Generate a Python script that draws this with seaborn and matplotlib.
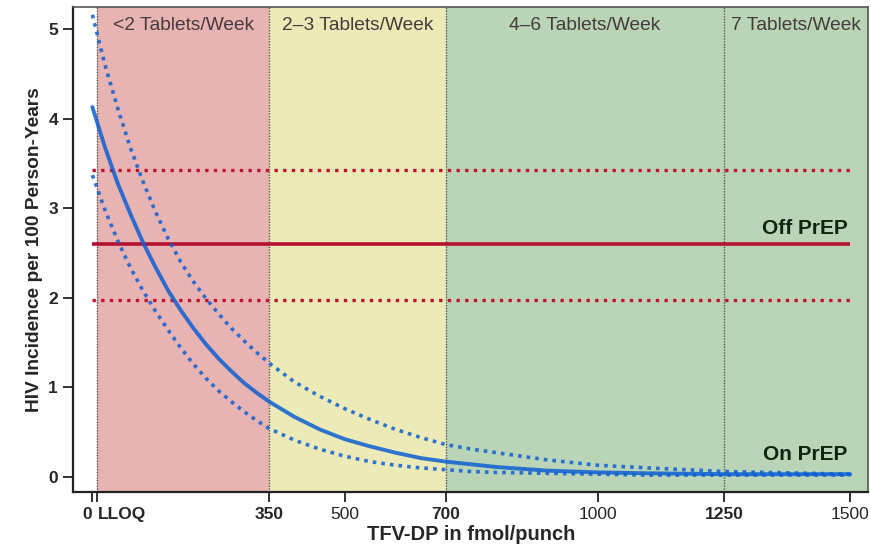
import numpy as np
import pandas as pd
import matplotlib
matplotlib.use("Agg")
import matplotlib.pyplot as plt
import matplotlib.transforms as mtransforms
import seaborn as sns

# ── Data ──────────────────────────────────────────────────────────────
conc   = [0, 25, 50, 75, 100, 125, 150, 175, 200, 225, 250, 275, 300, 325,
          350, 400, 450, 500, 550, 600, 650, 700, 750, 800, 900, 1000,
          1100, 1250, 1500]
mean   = [4.13, 3.68, 3.28, 2.94, 2.62, 2.34, 2.08, 1.86, 1.66, 1.48, 1.32,
          1.18, 1.05, 0.94, 0.84, 0.67, 0.53, 0.42, 0.34, 0.27, 0.21, 0.17,
          0.14, 0.11, 0.07, 0.05, 0.04, 0.03, 0.03]
upper  = [5.16, 4.60, 4.12, 3.68, 3.30, 2.96, 2.66, 2.40, 2.18, 1.99, 1.82,
          1.66, 1.52, 1.39, 1.27, 1.06, 0.90, 0.76, 0.64, 0.53, 0.44, 0.36,
          0.31, 0.27, 0.19, 0.13, 0.10, 0.06, 0.03]
lower  = [3.37, 2.98, 2.64, 2.34, 2.08, 1.85, 1.64, 1.44, 1.26, 1.10, 0.96,
          0.84, 0.73, 0.63, 0.54, 0.41, 0.31, 0.23, 0.17, 0.13, 0.10, 0.08,
          0.06, 0.05, 0.04, 0.03, 0.02, 0.02, 0.02]

off_prep       = 2.6
off_prep_upper = 3.43
off_prep_lower = 1.98

lloq        = 10
band_edges  = [lloq, 350, 700, 1250]
band_labels = ["<2 Tablets/Week", "2–3 Tablets/Week", "4–6 Tablets/Week",
               "7 Tablets/Week"]
band_colors = ["#e8b3b3", "#ecebb8", "#b9d4b7", "#b9d4b7"]

xticks      = [0, lloq, 350, 500, 700, 1000, 1250, 1500]
xticklabels = ["0", "LLOQ", "350", "500", "700", "1000", "1250", "1500"]
bold_xticks = {"0", "LLOQ", "350", "700", "1250"}

# ── Style ─────────────────────────────────────────────────────────────
sns.set_theme(style="ticks")
plt.rcParams["font.family"] = ["Liberation Sans", "DejaVu Sans"]

fig, ax = plt.subplots(figsize=(8.71, 5.52), dpi=100)
fig.subplots_adjust(left=0.084, right=0.997, bottom=0.109, top=0.987)

xmax = 1536
ax.set_xlim(-38, xmax)
ax.set_ylim(-0.167, 5.245)

# ── Background bands ──────────────────────────────────────────────────
edges = band_edges + [xmax]
for i, label in enumerate(band_labels):
    ax.axvspan(edges[i], edges[i + 1], color=band_colors[i], zorder=0, lw=0)
    ax.text((edges[i] + edges[i + 1]) / 2, 5.04, label, ha="center",
            va="center", fontsize=13.8, color="#463b3b")
for e in band_edges:
    ax.axvline(e, color="#555555", ls=(0, (1, 1)), lw=1.0, zorder=1)

# ── Off-PrEP reference ────────────────────────────────────────────────
red = "#c0142e"
ax.hlines(off_prep, 0, 1500, color="#b31230", lw=2.6, zorder=2)
ax.hlines([off_prep_upper, off_prep_lower], 0, 1500, color=red,
          lw=2.4, linestyles=(0, (1, 1.6)), zorder=2)

# ── On-PrEP curve + CI ────────────────────────────────────────────────
df = pd.DataFrame({"conc": conc, "mean": mean, "upper": upper, "lower": lower})
blue = "#0d5fd2"
sns.lineplot(data=df, x="conc", y="mean", ax=ax, color=blue, lw=2.8,
             alpha=0.85, zorder=3)
for col in ["upper", "lower"]:
    sns.lineplot(data=df, x="conc", y=col, ax=ax, color=blue, lw=2.6,
                 alpha=0.85, zorder=3, linestyle=(0, (1, 1.4)))

ax.text(1495, 2.77, "Off PrEP", ha="right", va="center", fontsize=15,
        fontweight="bold", color="#10240f")
ax.text(1495, 0.25, "On PrEP", ha="right", va="center", fontsize=15,
        fontweight="bold", color="#10240f")

# ── Axes ──────────────────────────────────────────────────────────────
ax.set_xticks(xticks)
ax.set_xticklabels(xticklabels, fontsize=12.5)
for t in ax.get_xticklabels():
    if t.get_text() in bold_xticks:
        t.set_fontweight("bold")


def _nudge(label, dx_pt):
    label.set_transform(label.get_transform()
                        + mtransforms.ScaledTranslation(dx_pt / 72, 0,
                                                        fig.dpi_scale_trans))


zero_lbl, lloq_lbl = ax.get_xticklabels()[:2]
zero_lbl.set_ha("right")
_nudge(zero_lbl, 3)
lloq_lbl.set_ha("left")
_nudge(lloq_lbl, 1.5)

ax.set_yticks(range(0, 6))
ax.set_yticklabels([str(v) for v in range(0, 6)], fontsize=12.5,
                   fontweight="bold")
ax.tick_params(axis="both", direction="out", length=7, width=1.3,
               color="#222222", pad=4)

ax.set_xlabel("TFV-DP in fmol/punch", fontsize=14.5, fontweight="bold",
              labelpad=2)
ax.set_ylabel("HIV Incidence per 100 Person-Years", fontsize=13.8,
              fontweight="bold")

for side in ["left", "bottom"]:
    ax.spines[side].set_color("#222222")
    ax.spines[side].set_linewidth(1.6)
for side in ["top", "right"]:
    ax.spines[side].set_color("#555555")
    ax.spines[side].set_linewidth(1.2)

fig.savefig("out.png", dpi=100)
plt.close(fig)
